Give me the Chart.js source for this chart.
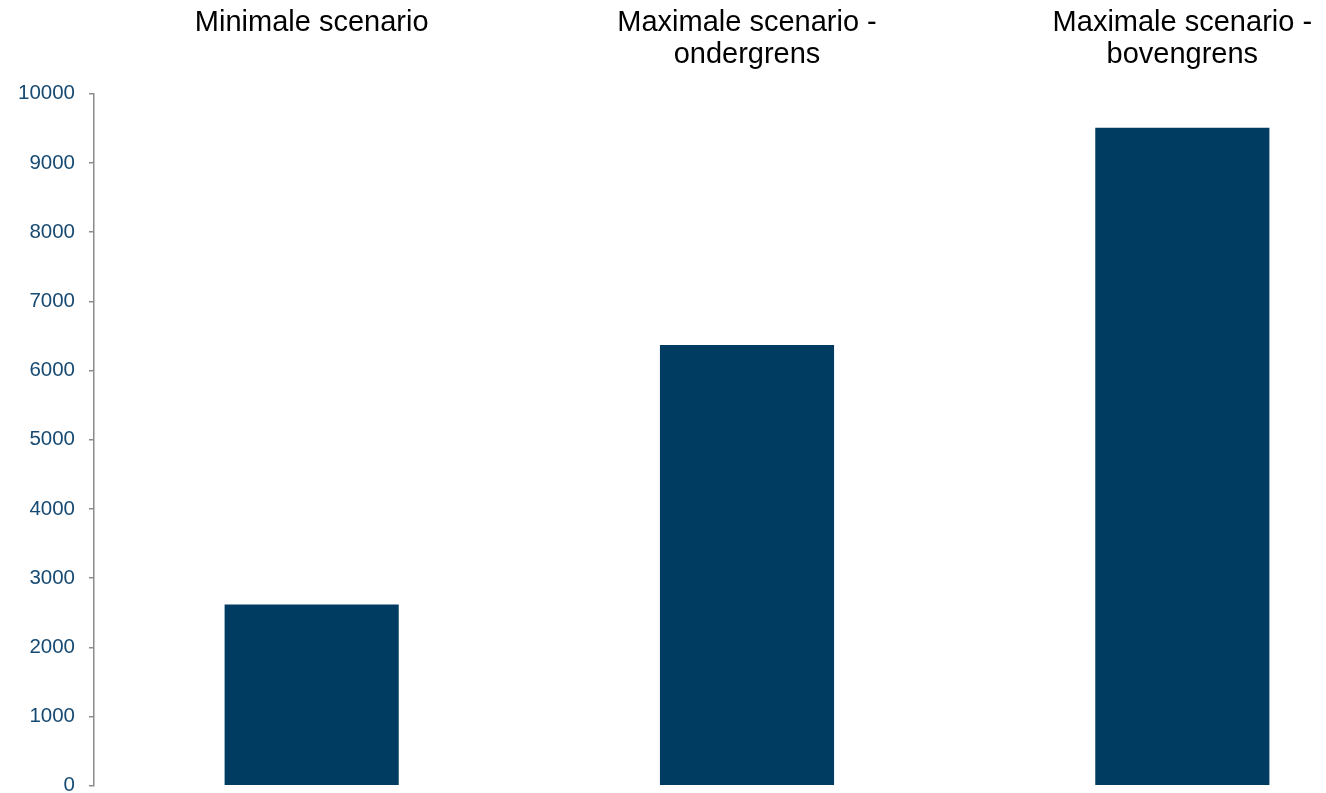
<!DOCTYPE html>
<html>
<head>
<meta charset="utf-8">
<script src="https://cdn.jsdelivr.net/npm/chart.js@4"></script>
<style>
  html, body { margin: 0; padding: 0; background: #fff; overflow: hidden; }
  #wrap { position: relative; width: 1400px; height: 820px; margin-top: -8px; }
</style>
</head>
<body>
<div id="wrap"><canvas id="myChart"></canvas></div>
<script>
// scenario labels (shown above the bars)
var scenarios = [
    ["Minimale scenario"],
    ["Maximale scenario -", "ondergrens"],
    ["Maximale scenario -", "bovengrens"]
];
var values = [2620, 6370, 9510];
var yTicks = [0, 1000, 2000, 3000, 4000, 5000, 6000, 7000, 8000, 9000, 10000];

var ctx = document.getElementById('myChart');

var myChart = new Chart(ctx, {
    type: 'bar',
    data: {
        labels: scenarios,
        datasets: [{
            data: values,
            backgroundColor: "#003c62",
            borderWidth: 0,
            barPercentage: 0.4,
            categoryPercentage: 1
        }]
    },
    options: {
        responsive: true,
        maintainAspectRatio: false,
        animation: false,
        layout: {
            padding: { left: 4, right: 0, top: 0, bottom: 0 }
        },
        plugins: {
            legend: { display: false },
            tooltip: { enabled: false }
        },
        scales: {
            x: {
                position: 'top',
                grid: { display: false },
                border: { display: false },
                ticks: {
                    color: "#000",
                    font: { family: "Liberation Sans, Arial", size: 29, lineHeight: 1.1 },
                    crossAlign: 'far',
                    maxRotation: 0,
                    padding: 15
                }
            },
            y: {
                min: 0,
                max: 10000,
                afterBuildTicks: (axis) => {
                    axis.ticks = yTicks.map((v) => ({ value: v }));
                },
                grid: {
                    drawOnChartArea: false,
                    color: "#8c8c8c",
                    tickLength: 5,
                    lineWidth: 1.5
                },
                border: { color: "#8c8c8c", width: 1.5 },
                ticks: {
                    color: "#174a72",
                    font: { family: "Liberation Sans, Arial", size: 20.5 },
                    padding: 14,
                    callback: (v) => String(v)
                }
            }
        }
    }
});
</script>
</body>
</html>
